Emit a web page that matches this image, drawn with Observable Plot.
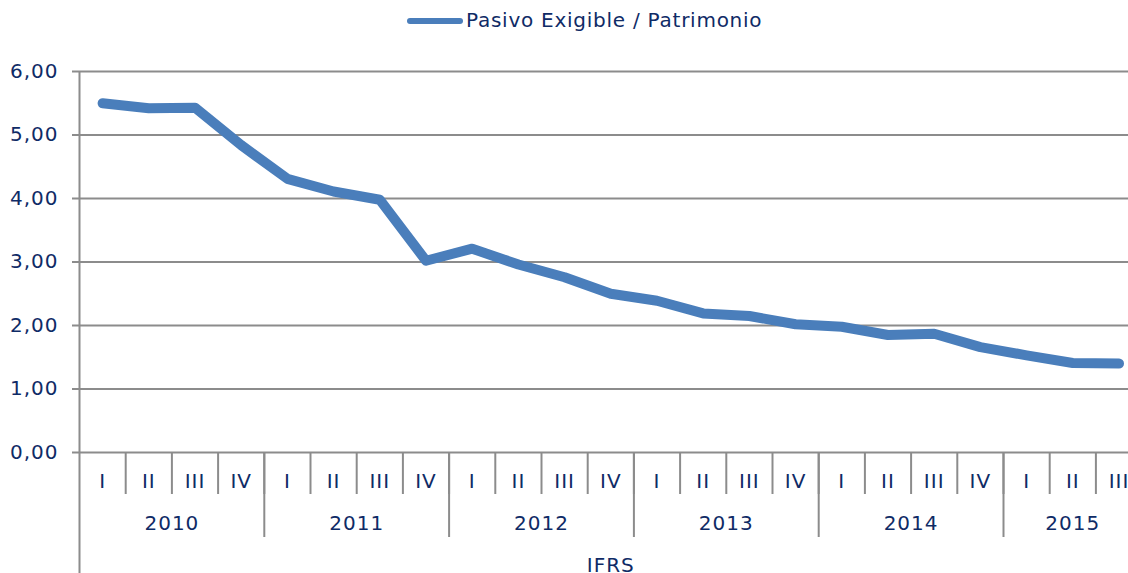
<!DOCTYPE html>
<html>
<head>
<meta charset="utf-8">
<script src="https://cdn.jsdelivr.net/npm/d3@7"></script>
<script src="https://cdn.jsdelivr.net/npm/@observablehq/plot@0.6"></script>
<style>
  html, body { margin: 0; padding: 0; background: #fff; overflow: hidden; }
  #legend { height: 42px; position: relative; font-family: "DejaVu Sans", Verdana, sans-serif; font-size: 20px; letter-spacing: 0.75px; color: #0F2B66; }
  #legend .sw { position: absolute; left: 407px; top: 18px; width: 56px; height: 6px; border-radius: 3px; background: #4A7EBB; }
  #legend .lb { position: absolute; left: 466px; top: 8px; white-space: nowrap; }
</style>
</head>
<body>
<div id="legend"><span class="sw"></span><span class="lb">Pasivo Exigible / Patrimonio</span></div>
<div id="chart"></div>
<script>
const seriesName = "Pasivo Exigible / Patrimonio";
const years = ["2010", "2010", "2010", "2010", "2011", "2011", "2011", "2011", "2012", "2012", "2012", "2012", "2013", "2013", "2013", "2013", "2014", "2014", "2014", "2014", "2015", "2015", "2015"];
const quarters = ["I", "II", "III", "IV", "I", "II", "III", "IV", "I", "II", "III", "IV", "I", "II", "III", "IV", "I", "II", "III", "IV", "I", "II", "III"];
const values = [5.50, 5.42, 5.43, 4.84, 4.31, 4.11, 3.98, 3.02, 3.21, 2.96, 2.76, 2.50, 2.39, 2.19, 2.15, 2.02, 1.98, 1.85, 1.87, 1.66, 1.53, 1.41, 1.40];
const yTicks = [0, 1, 2, 3, 4, 5, 6];
const groupLabel = "IFRS";

const data = values.map((v, i) => ({i, year: years[i], q: quarters[i], v}));
const yearList = Array.from(new Set(years));
const yearData = yearList.map(y => {
  const idx = data.filter(d => d.year === y).map(d => d.i);
  return {year: y, mid: d3.mean(idx), start: d3.min(idx) - 0.5, end: d3.max(idx) + 0.5};
});
const n = values.length;
const qSeps = d3.range(1, n).map(i => i - 0.5);
const ySeps = yearData.slice(1).map(d => d.start);

const font = "DejaVu Sans, Verdana, sans-serif";
const textColor = "#0F2B66";
const gridColor = "#8C8C8C";
const unit = 6 / (452 - 71); // value per pixel

const chart = Plot.plot({
  width: 1128,
  height: 531,
  marginLeft: 79,
  marginRight: 0,
  marginTop: 29,
  marginBottom: 121,
  style: {fontFamily: font, fontSize: "20px", letterSpacing: "1px", color: textColor, background: "white", overflow: "hidden"},
  x: {type: "linear", domain: [-0.5, n - 0.5], range: [79, 79 + n * 46.2], axis: null},
  y: {domain: [0, 6], ticks: yTicks, axis: null},
  marks: [
    Plot.ruleY(yTicks, {stroke: gridColor, strokeWidth: 2, x1: -0.5 - 7 * (1 / 46.2), x2: n + 1}),
    Plot.text(yTicks, {x: -0.5, y: d => d, text: d => d.toFixed(2).replace(".", ","), textAnchor: "end", dx: -21, fill: textColor, fontSize: 20}),
    Plot.ruleX(qSeps, {y1: 0, y2: -42 * unit, stroke: gridColor, strokeWidth: 2}),
    Plot.ruleX(ySeps, {y1: 0, y2: -85 * unit, stroke: gridColor, strokeWidth: 2}),
    Plot.ruleX([-0.5], {y1: 6, y2: -125 * unit, stroke: gridColor, strokeWidth: 2}),
    Plot.text(data, {x: "i", y: 0, text: "q", dy: 29, fill: textColor, fontSize: 20}),
    Plot.text(yearData, {x: "mid", y: 0, text: "year", dy: 71, fill: textColor, fontSize: 20}),
    Plot.text([groupLabel], {x: (n - 1) / 2, y: 0, text: d => d, dy: 113, fill: textColor, fontSize: 20}),
    Plot.line(data, {x: "i", y: "v", stroke: "#4A7EBB", strokeWidth: 10, strokeLinejoin: "round", strokeLinecap: "round"})
  ]
});
document.getElementById("chart").appendChild(chart);
</script>
</body>
</html>
